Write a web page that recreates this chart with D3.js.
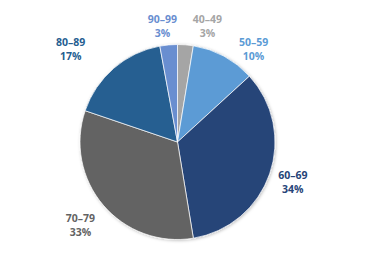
<!DOCTYPE html>
<html><head><meta charset="utf-8">
<script src="https://cdn.jsdelivr.net/npm/d3@7"></script>
<style>html,body{margin:0;padding:0;background:#fff;}svg{display:block;}</style>
</head><body>
<svg id="chart" width="374" height="275"></svg>
<script>
const categories = ["40–49", "50–59", "60–69", "70–79", "80–89", "90–99"];
const values = [2.6, 10.6, 34.2, 32.8, 16.9, 2.9];
const percentLabels = ["3%", "10%", "34%", "33%", "17%", "3%"];
const colors = ["#A5A5A5", "#5B9BD5", "#264478", "#636363", "#255E91", "#698ED0"];

const W = 374, H = 275;
const cx = 177.5, cy = 142, R = 97.5;
const svg = d3.select("#chart");
const defs = svg.append("defs");
const f = defs.append("filter").attr("id","sh").attr("x","-20%").attr("y","-20%").attr("width","140%").attr("height","140%");
f.append("feDropShadow").attr("dx",0.8).attr("dy",0.8).attr("stdDeviation",1.5).attr("flood-color","#000").attr("flood-opacity",0.25);

const data = categories.map((c,i)=>({cat:c, value:values[i], pct:percentLabels[i], color:colors[i]}));
const pie = d3.pie().value(d=>d.value).sort(null).startAngle(0).endAngle(2*Math.PI);
const arcs = pie(data);
const arc = d3.arc().innerRadius(0).outerRadius(R);
const g = svg.append("g").attr("transform",`translate(${cx},${cy})`);
g.append("g").attr("filter","url(#sh)").selectAll("path").data(arcs).join("path")
  .attr("d",arc).attr("fill",d=>d.data.color).attr("stroke","#fff").attr("stroke-width",0.7);

// label layout: centroid at outer label radius with best-fit nudges
const labelArc = d3.arc().innerRadius(122).outerRadius(122);
const nudge = [[20,6],[18,14],[0,0],[-4,4],[-27,-1],[-4,5]];
const lg = g.append("g").attr("font-family","'Open Sans', sans-serif").attr("font-weight","bold").attr("font-size","10.5px").attr("text-anchor","middle");
arcs.forEach((a,i)=>{
  const [x,y] = labelArc.centroid(a);
  const t = lg.append("text").attr("x",x+nudge[i][0]).attr("y",y+nudge[i][1]-3).attr("fill",a.data.color);
  t.append("tspan").attr("x",x+nudge[i][0]).attr("dy",0).text(a.data.cat);
  t.append("tspan").attr("x",x+nudge[i][0]).attr("dy",14).text(a.data.pct);
});
</script>
</body></html>
